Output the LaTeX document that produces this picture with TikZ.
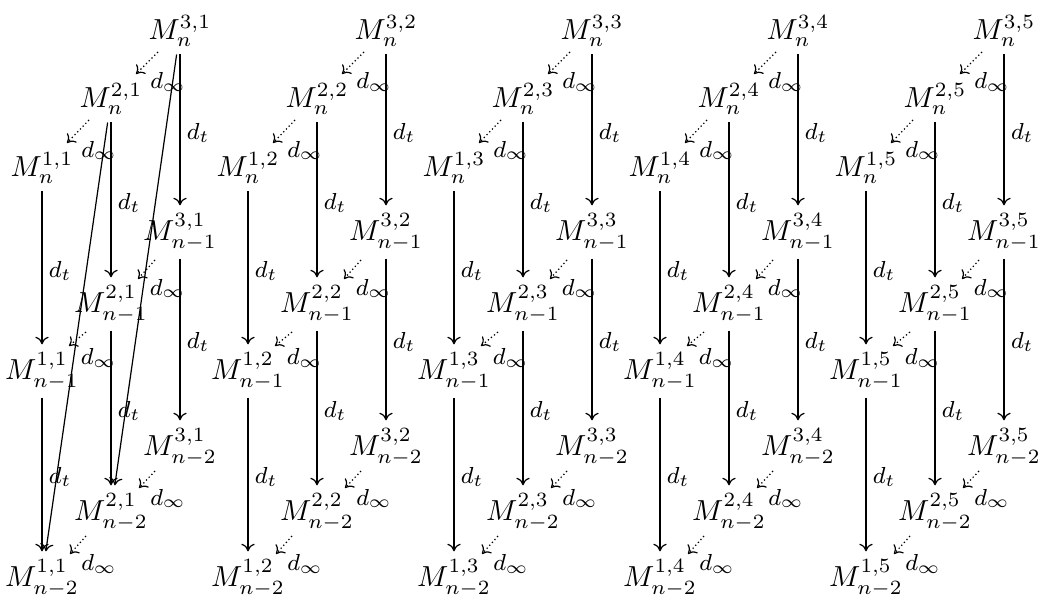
\documentclass[tikz,border=0pt]{standalone}
\usetikzlibrary{arrows.meta}
\newcommand{\lbl}[1]{{\fontsize{8.4}{10}\selectfont$#1$}}
\begin{document}
\begin{tikzpicture}[x=0.345pt,y=-0.345pt,
  mn/.style={inner sep=2.6pt},
  tarr/.style={-{To[length=2.6pt,width=4.6pt]}, line width=0.42pt},
  darr/.style={-{To[length=2.6pt,width=4.6pt]}, dash pattern=on 0.45pt off 0.9pt, line width=0.42pt},
  tlab/.style={midway, right, inner sep=2.2pt, yshift=-1pt},
  ilab/.style={midway, shift={(21,19)}, inner sep=0pt}]
\useasboundingbox (0,0) rectangle (1040,599);
\foreach \c in {1,...,5}{
  \pgfmathsetmacro\xa{42+206*(\c-1)}
  \pgfmathsetmacro\xb{\xa+69}
  \pgfmathsetmacro\xc{\xa+138}
  \foreach \r/\s/\ya/\yb/\yc in {0/n/168/99/31, 1/n-1/371/304/232, 2/n-2/578/512/447}{
    \node[mn] (m-\c-\r-1) at (\xa,\ya) {$M_{\s}^{1,\c}$};
    \node[mn] (m-\c-\r-2) at (\xb,\yb) {$M_{\s}^{2,\c}$};
    \node[mn] (m-\c-\r-3) at (\xc,\yc) {$M_{\s}^{3,\c}$};
  }
  \foreach \l in {1,2,3}{
    \draw[tarr] (m-\c-0-\l) -- node[tlab]{\lbl{d_t}} (m-\c-1-\l);
    \draw[tarr] (m-\c-1-\l) -- node[tlab]{\lbl{d_t}} (m-\c-2-\l);
  }
  \foreach \r/\sx/\sy/\ex/\ey in {0/-22/21/25/-25, 1/-25/28/27/-25, 2/-25/24/28/-24}{
    \draw[darr] ([shift={(\sx,\sy)}]m-\c-\r-3.center) -- node[ilab]{\lbl{d_\infty}} ([shift={(\ex,\ey)}]m-\c-\r-2.center);
    \draw[darr] ([shift={(\sx,\sy)}]m-\c-\r-2.center) -- node[ilab]{\lbl{d_\infty}} ([shift={(\ex,\ey)}]m-\c-\r-1.center);
  }
}
\draw[tarr] (m-1-0-3) -- (m-1-2-2);
\draw[tarr] (m-1-0-2) -- (m-1-2-1);
\end{tikzpicture}
\end{document}
